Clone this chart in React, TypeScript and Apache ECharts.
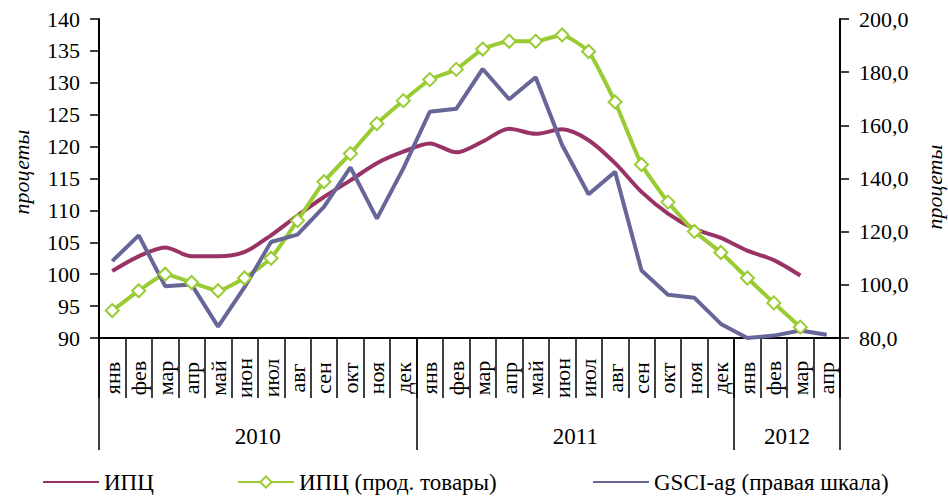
import React, { useEffect, useRef } from "react";
import * as echarts from "echarts";

const monthLabels = [
  "янв", "фев", "мар", "апр", "май", "июн", "июл", "авг", "сен", "окт", "ноя", "дек",
  "янв", "фев", "мар", "апр", "май", "июн", "июл", "авг", "сен", "окт", "ноя", "дек",
  "янв", "фев", "мар", "апр",
];
const yearLabels = ["2010", "2011", "2012"];
const yearLabelPositions = [6, 18, 26];
const yearBoundaries = [0, 12, 24, 28];

const cpi = [
  100.5, 102.8, 104.2, 102.8, 102.8, 103.5, 106.1, 109.2, 112.1, 114.7, 117.4, 119.2,
  120.5, 119.1, 120.8, 122.8, 122.0, 122.7, 121.0, 117.4, 112.9, 109.5, 107.1, 105.7,
  103.7, 102.2, 99.8, null,
];
const cpiFood = [
  94.3, 97.4, 100.0, 98.7, 97.4, 99.4, 102.5, 108.4, 114.5, 118.9, 123.6, 127.2,
  130.5, 132.1, 135.3, 136.5, 136.5, 137.5, 134.9, 127.0, 117.2, 111.3, 106.7, 103.4,
  99.4, 95.5, 91.7, null,
];
const gsciAg = [
  108.9, 118.6, 99.5, 100.1, 84.3, 99.1, 116.1, 118.9, 129.3, 144.2, 124.9, 143.8,
  165.1, 166.2, 181.2, 169.8, 178.1, 152.6, 134.1, 142.5, 105.4, 96.3, 95.1, 85.3,
  80.0, 80.9, 82.8, 81.2,
];

const seriesNames = ["ИПЦ", "ИПЦ (прод. товары)", "GSCI-ag (правая шкала)"];
const axisTitle = "процеты";

const FONT = "'Liberation Serif', 'Times New Roman', Times, 'DejaVu Serif', serif";
const C_CPI = "#993366";
const C_FOOD = "#99CC33";
const C_GSCI = "#666699";

export default function App() {
  const ref = useRef<HTMLDivElement>(null);

  useEffect(() => {
    if (!ref.current) return;
    const chart = echarts.init(ref.current, null, { renderer: "svg" });
    const axisLine = { show: true, lineStyle: { color: "#000", width: 2 } };
    const tickLine = { color: "#000", width: 1.5 };
    const legendBase = {
      top: 468,
      padding: 2,
      itemWidth: 56,
      itemHeight: 14,
      itemGap: 0,
      textStyle: { fontFamily: FONT, fontSize: 23, lineHeight: 24, color: "#000" },
    };
    const option: any = {
      animation: false,
      backgroundColor: "#fff",
      grid: { left: 99, right: 108, top: 19, bottom: 161, containLabel: false },
      legend: [
        { ...legendBase, left: 40, data: [seriesNames[0]], itemStyle: { opacity: 0 } },
        { ...legendBase, left: 235, data: [seriesNames[1]] },
        { ...legendBase, left: 590, data: [seriesNames[2]], itemStyle: { opacity: 0 } },
      ],
      xAxis: [
        {
          type: "category",
          data: monthLabels,
          boundaryGap: true,
          position: "bottom",
          axisLine,
          axisTick: { show: true, interval: 0, length: 60, lineStyle: tickLine },
          axisLabel: {
            interval: 0,
            rotate: 90,
            align: "center",
            verticalAlign: "middle",
            margin: 40,
            fontFamily: FONT,
            fontSize: 22,
            color: "#000",
          },
          splitLine: { show: false },
        },
        {
          type: "value",
          min: 0,
          max: 28,
          position: "bottom",
          axisLine: { show: false },
          splitLine: { show: false },
          axisTick: {
            show: true,
            customValues: yearBoundaries,
            length: 112,
            lineStyle: tickLine,
          },
          axisLabel: {
            customValues: yearLabelPositions,
            formatter: (v: number) => yearLabels[yearLabelPositions.indexOf(v)] ?? "",
            margin: 98,
            verticalAlign: "middle",
            fontFamily: FONT,
            fontSize: 23,
            color: "#000",
          },
        },
      ],
      yAxis: [
        {
          type: "value",
          min: 90,
          max: 140,
          interval: 5,
          position: "left",
          axisLine,
          axisTick: { show: true, length: 9, lineStyle: tickLine },
          axisLabel: { margin: 19, fontFamily: FONT, fontSize: 22, color: "#000" },
          splitLine: { show: false },
        },
        {
          type: "value",
          min: 80,
          max: 200,
          interval: 20,
          position: "right",
          axisLine,
          axisTick: { show: true, length: 9, lineStyle: tickLine },
          axisLabel: {
            margin: 19,
            fontFamily: FONT,
            fontSize: 22,
            color: "#000",
            formatter: (v: number) => v.toFixed(1).replace(".", ","),
          },
          splitLine: { show: false },
        },
      ],
      series: [
        {
          name: seriesNames[0],
          type: "line",
          data: cpi,
          xAxisIndex: 0,
          yAxisIndex: 0,
          symbol: "none",
          smooth: 0.3,
          lineStyle: { color: C_CPI, width: 4 },
          itemStyle: { color: C_CPI },
        },
        {
          name: seriesNames[1],
          type: "line",
          data: cpiFood,
          xAxisIndex: 0,
          yAxisIndex: 0,
          symbol: "diamond",
          symbolSize: 13,
          smooth: 0.15,
          lineStyle: { color: C_FOOD, width: 4 },
          itemStyle: { color: "#fff", borderColor: C_FOOD, borderWidth: 2 },
        },
        {
          name: seriesNames[2],
          type: "line",
          data: gsciAg,
          xAxisIndex: 0,
          yAxisIndex: 1,
          symbol: "none",
          lineStyle: { color: C_GSCI, width: 4 },
          itemStyle: { color: C_GSCI },
        },
      ],
      graphic: [
        {
          type: "text",
          x: 21,
          y: 172,
          rotation: Math.PI / 2,
          style: {
            text: axisTitle,
            fontFamily: FONT,
            fontSize: 22,
            fontStyle: "italic",
            fill: "#000",
            align: "center",
            verticalAlign: "middle",
            textAlign: "center",
            textVerticalAlign: "middle",
          },
        },
        {
          type: "text",
          x: 934,
          y: 187,
          rotation: Math.PI / 2,
          style: {
            text: axisTitle,
            fontFamily: FONT,
            fontSize: 22,
            fontStyle: "italic",
            fill: "#000",
            align: "center",
            verticalAlign: "middle",
            textAlign: "center",
            textVerticalAlign: "middle",
          },
        },
      ],
    };
    chart.setOption(option);
    return () => chart.dispose();
  }, []);

  return (
    <div
      ref={ref}
      style={{ position: "fixed", left: 0, top: 0, width: 948, height: 499, background: "#fff" }}
    />
  );
}
